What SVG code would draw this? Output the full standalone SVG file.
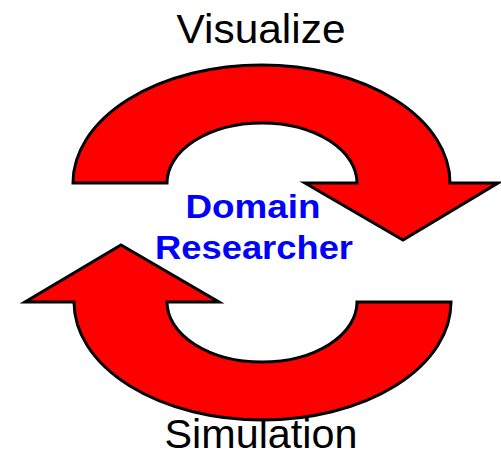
<svg xmlns="http://www.w3.org/2000/svg" width="501" height="457" viewBox="0 0 501 457">
<style>
.arrow{fill:#FF0000;stroke:#000;stroke-width:3;stroke-linejoin:miter}
.lbl{font-family:"Liberation Sans",Arial,sans-serif;font-size:41px;fill:#000;text-anchor:middle}
.ctr{font-family:"Liberation Sans",Arial,sans-serif;font-size:34px;font-weight:bold;fill:#0000FF;text-anchor:middle}
</style>
<rect width="501" height="457" fill="#fff"/>
<g id="connectors">
<path id="arrow-top" class="arrow" d="M 73 183 A 188.5 118 0 0 1 450 183 L 498 183 L 403 240 L 305 183 L 357 183 A 95 60 0 0 0 167 183 Z"/>
<path id="arrow-bottom" class="arrow" d="M 451 302 A 188.5 118 0 0 1 74 302 L 25 302 L 121 245 L 219 302 L 167 302 A 95 60 0 0 0 357 302 Z"/>
</g>
<g id="visualize"><text class="lbl" x="261" y="43" textLength="169" lengthAdjust="spacingAndGlyphs">Visualize</text></g>
<g id="domain-researcher"><text class="ctr" x="253" y="218" textLength="135" lengthAdjust="spacingAndGlyphs">Domain</text><text class="ctr" x="254" y="259" textLength="198" lengthAdjust="spacingAndGlyphs">Researcher</text></g>
<g id="simulation"><text class="lbl" x="261" y="448" textLength="193" lengthAdjust="spacingAndGlyphs">Simulation</text></g>
</svg>
